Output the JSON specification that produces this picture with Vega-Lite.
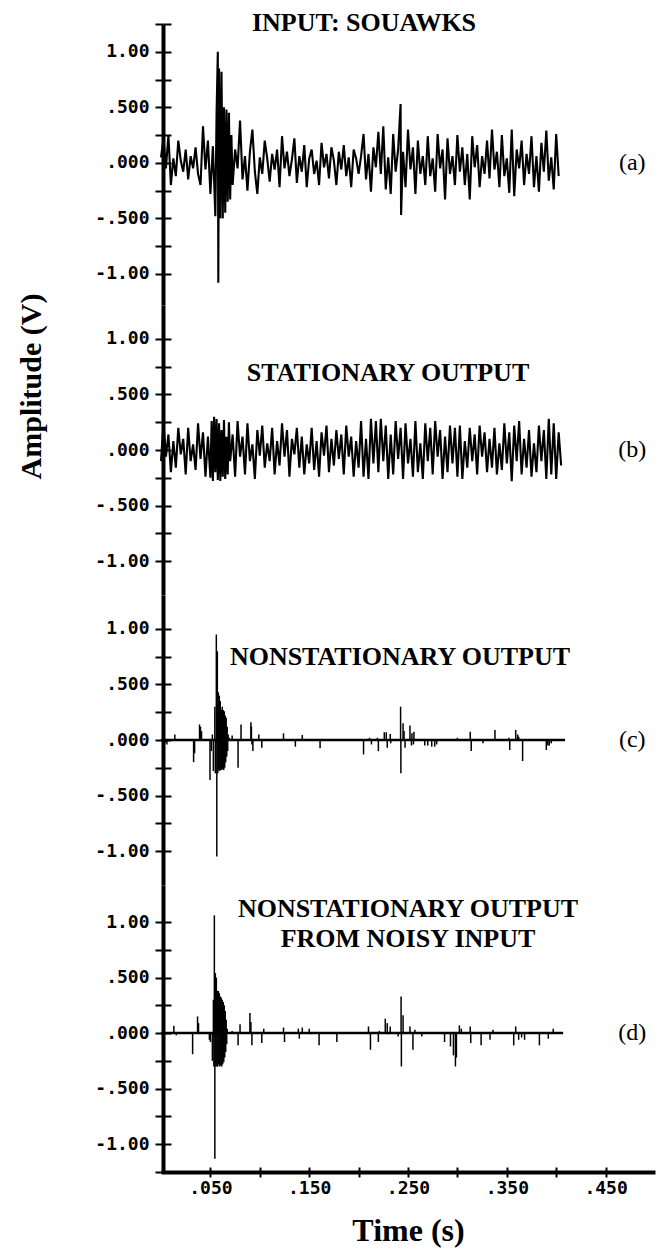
{
  "$schema": "https://vega.github.io/schema/vega-lite/v6.json",
  "autosize": "none",
  "padding": {"left": 161, "top": 24, "right": 7, "bottom": 1230},
  "background": "white",
  "config": {
    "view": {"stroke": null},
    "axis": {"grid": false, "domainColor": "black", "tickColor": "black", "labelColor": "black", "titleColor": "black", "labelFlush": false, "labelOverlap": false},
    "title": {"font": "Liberation Serif", "fontWeight": "bold", "fontSize": 26, "color": "black", "anchor": "middle", "frame": "group", "baseline": "alphabetic"}
  },
  "spacing": 0,
  "bounds": "flush",
  "datasets": {
    "a": [
      {"t":0,"v":0.05},{"t":0.0025,"v":0.22},{"t":0.005,"v":-0.05},{"t":0.0075,"v":0.25},{"t":0.01,"v":-0.2},{"t":0.0125,"v":0.04},{"t":0.015,"v":-0.12},{"t":0.0175,"v":0.2},{"t":0.02,"v":0.02},{"t":0.0225,"v":-0.08},
      {"t":0.025,"v":0.12},{"t":0.0275,"v":-0.15},{"t":0.03,"v":0.06},{"t":0.0325,"v":-0.05},{"t":0.035,"v":0.14},{"t":0.0375,"v":-0.1},{"t":0.04,"v":-0.2},{"t":0.0425,"v":0.33},{"t":0.045,"v":-0.06},{"t":0.0475,"v":0.2},
      {"t":0.05,"v":-0.28},{"t":0.0525,"v":0.15},{"t":0.055,"v":-0.48},{"t":0.05625,"v":0.45},{"t":0.0575,"v":1.0},{"t":0.058,"v":-1.08},{"t":0.05875,"v":0.85},{"t":0.06,"v":-0.5},{"t":0.06125,"v":0.82},{"t":0.0625,"v":-0.5},
      {"t":0.06375,"v":0.5},{"t":0.065,"v":-0.45},{"t":0.06625,"v":0.48},{"t":0.0675,"v":-0.35},{"t":0.06875,"v":0.45},{"t":0.07,"v":-0.33},{"t":0.07125,"v":0.25},{"t":0.0725,"v":-0.2},
      {"t":0.075,"v":0.12},{"t":0.0775,"v":-0.05},{"t":0.08,"v":0.38},{"t":0.0825,"v":-0.15},{"t":0.085,"v":0.06},{"t":0.0875,"v":-0.25},{"t":0.09,"v":0.1},{"t":0.0925,"v":0.3},{"t":0.095,"v":-0.08},{"t":0.0975,"v":-0.28},
      {"t":0.1,"v":0.05},{"t":0.1025,"v":-0.1},{"t":0.105,"v":0.2},{"t":0.1075,"v":0.04},{"t":0.11,"v":-0.17},{"t":0.1125,"v":0.08},{"t":0.115,"v":-0.06},{"t":0.1175,"v":0.12},{"t":0.12,"v":-0.22},{"t":0.1225,"v":0.24},
      {"t":0.125,"v":-0.05},{"t":0.1275,"v":0.1},{"t":0.13,"v":-0.12},{"t":0.1325,"v":0.03},{"t":0.135,"v":0.22},{"t":0.1375,"v":-0.18},{"t":0.14,"v":0.06},{"t":0.1425,"v":-0.08},{"t":0.145,"v":0.16},{"t":0.1475,"v":-0.22},
      {"t":0.15,"v":0.04},{"t":0.1525,"v":0.12},{"t":0.155,"v":-0.1},{"t":0.1575,"v":0.02},{"t":0.16,"v":-0.2},{"t":0.1625,"v":0.18},{"t":0.165,"v":-0.04},{"t":0.1675,"v":0.08},{"t":0.17,"v":-0.14},{"t":0.1725,"v":0.14},
      {"t":0.175,"v":0.02},{"t":0.1775,"v":-0.2},{"t":0.18,"v":0.1},{"t":0.1825,"v":-0.06},{"t":0.185,"v":0.16},{"t":0.1875,"v":-0.12},{"t":0.19,"v":0.05},{"t":0.1925,"v":-0.22},{"t":0.195,"v":0.12},{"t":0.1975,"v":0.04},
      {"t":0.2,"v":-0.1},{"t":0.2025,"v":0.06},{"t":0.205,"v":0.26},{"t":0.2075,"v":-0.15},{"t":0.21,"v":0.08},{"t":0.2125,"v":-0.26},{"t":0.215,"v":0.14},{"t":0.2175,"v":-0.04},{"t":0.22,"v":0.28},{"t":0.2225,"v":-0.1},
      {"t":0.225,"v":0.33},{"t":0.2275,"v":-0.24},{"t":0.23,"v":0.05},{"t":0.2325,"v":-0.28},{"t":0.235,"v":0.26},{"t":0.2375,"v":-0.08},{"t":0.24,"v":0.12},{"t":0.2425,"v":0.53},{"t":0.243,"v":-0.47},{"t":0.245,"v":0.1},
      {"t":0.2475,"v":-0.22},{"t":0.25,"v":0.3},{"t":0.2525,"v":-0.06},{"t":0.255,"v":0.14},{"t":0.2575,"v":-0.28},{"t":0.26,"v":0.2},{"t":0.2625,"v":-0.1},{"t":0.265,"v":0.06},{"t":0.2675,"v":-0.2},{"t":0.27,"v":0.24},
      {"t":0.2725,"v":-0.12},{"t":0.275,"v":0.04},{"t":0.2775,"v":-0.26},{"t":0.28,"v":0.26},{"t":0.2825,"v":-0.05},{"t":0.285,"v":0.12},{"t":0.2875,"v":-0.33},{"t":0.29,"v":0.22},{"t":0.2925,"v":-0.1},{"t":0.295,"v":0.06},
      {"t":0.2975,"v":-0.2},{"t":0.3,"v":0.25},{"t":0.3025,"v":-0.08},{"t":0.305,"v":0.14},{"t":0.3075,"v":-0.2},{"t":0.31,"v":0.08},{"t":0.3125,"v":-0.33},{"t":0.315,"v":0.24},{"t":0.3175,"v":-0.04},{"t":0.32,"v":0.16},
      {"t":0.3225,"v":-0.22},{"t":0.325,"v":0.06},{"t":0.3275,"v":-0.1},{"t":0.33,"v":0.2},{"t":0.3325,"v":-0.14},{"t":0.335,"v":0.3},{"t":0.3375,"v":-0.06},{"t":0.34,"v":0.1},{"t":0.3425,"v":-0.22},{"t":0.345,"v":0.25},
      {"t":0.3475,"v":-0.12},{"t":0.35,"v":0.04},{"t":0.3525,"v":-0.27},{"t":0.355,"v":0.3},{"t":0.3575,"v":-0.3},{"t":0.36,"v":0.12},{"t":0.3625,"v":-0.05},{"t":0.365,"v":0.2},{"t":0.3675,"v":-0.2},{"t":0.37,"v":0.08},
      {"t":0.3725,"v":-0.1},{"t":0.375,"v":0.24},{"t":0.3775,"v":-0.22},{"t":0.38,"v":0.06},{"t":0.3825,"v":-0.26},{"t":0.385,"v":0.18},{"t":0.3875,"v":-0.08},{"t":0.39,"v":0.29},{"t":0.3925,"v":-0.16},{"t":0.395,"v":0.05},
      {"t":0.3975,"v":-0.24},{"t":0.4,"v":0.26},{"t":0.4025,"v":-0.12}
    ],
    "b": [
      {"t":0,"v":-0.1},{"t":0.0025,"v":0.24},{"t":0.005,"v":-0.06},{"t":0.0075,"v":0.14},{"t":0.01,"v":-0.2},{"t":0.0125,"v":0.08},{"t":0.015,"v":-0.16},{"t":0.0175,"v":0.2},{"t":0.02,"v":-0.04},{"t":0.0225,"v":0.1},
      {"t":0.025,"v":-0.22},{"t":0.0275,"v":0.2},{"t":0.03,"v":-0.1},{"t":0.0325,"v":0.05},{"t":0.035,"v":-0.18},{"t":0.0375,"v":0.24},{"t":0.04,"v":-0.08},{"t":0.0425,"v":0.16},{"t":0.045,"v":-0.24},{"t":0.0475,"v":0.12},
      {"t":0.05,"v":-0.25},{"t":0.05125,"v":0.26},{"t":0.0525,"v":-0.28},{"t":0.05375,"v":0.3},{"t":0.055,"v":-0.2},{"t":0.05625,"v":0.28},{"t":0.0575,"v":-0.27},{"t":0.05875,"v":0.24},{"t":0.06,"v":-0.28},{"t":0.06125,"v":0.18},
      {"t":0.0625,"v":-0.24},{"t":0.06375,"v":0.27},{"t":0.065,"v":-0.26},{"t":0.06625,"v":0.12},{"t":0.0675,"v":-0.22},{"t":0.06875,"v":0.25},{"t":0.07,"v":-0.1},{"t":0.0725,"v":0.14},{"t":0.075,"v":-0.24},{"t":0.0775,"v":0.26},
      {"t":0.08,"v":-0.06},{"t":0.0825,"v":0.12},{"t":0.085,"v":-0.22},{"t":0.0875,"v":0.24},{"t":0.09,"v":-0.1},{"t":0.0925,"v":0.05},{"t":0.095,"v":-0.26},{"t":0.0975,"v":0.18},{"t":0.1,"v":-0.05},{"t":0.1025,"v":0.22},
      {"t":0.105,"v":-0.16},{"t":0.1075,"v":0.06},{"t":0.11,"v":-0.1},{"t":0.1125,"v":0.2},{"t":0.115,"v":-0.22},{"t":0.1175,"v":0.08},{"t":0.12,"v":-0.14},{"t":0.1225,"v":0.24},{"t":0.125,"v":-0.06},{"t":0.1275,"v":0.18},
      {"t":0.13,"v":-0.24},{"t":0.1325,"v":0.1},{"t":0.135,"v":-0.04},{"t":0.1375,"v":0.2},{"t":0.14,"v":-0.16},{"t":0.1425,"v":0.12},{"t":0.145,"v":-0.22},{"t":0.1475,"v":0.05},{"t":0.15,"v":-0.12},{"t":0.1525,"v":0.2},
      {"t":0.155,"v":-0.18},{"t":0.1575,"v":0.08},{"t":0.16,"v":-0.24},{"t":0.1625,"v":0.16},{"t":0.165,"v":-0.05},{"t":0.1675,"v":0.22},{"t":0.17,"v":-0.2},{"t":0.1725,"v":0.1},{"t":0.175,"v":-0.14},{"t":0.1775,"v":0.18},
      {"t":0.18,"v":-0.08},{"t":0.1825,"v":0.14},{"t":0.185,"v":-0.22},{"t":0.1875,"v":0.22},{"t":0.19,"v":-0.06},{"t":0.1925,"v":0.12},{"t":0.195,"v":-0.24},{"t":0.1975,"v":0.08},{"t":0.2,"v":-0.16},{"t":0.2025,"v":0.26},
      {"t":0.205,"v":-0.24},{"t":0.2075,"v":0.1},{"t":0.21,"v":-0.26},{"t":0.2125,"v":0.28},{"t":0.215,"v":-0.12},{"t":0.2175,"v":0.26},{"t":0.22,"v":-0.2},{"t":0.2225,"v":0.28},{"t":0.225,"v":-0.1},{"t":0.2275,"v":0.22},
      {"t":0.23,"v":-0.26},{"t":0.2325,"v":0.14},{"t":0.235,"v":-0.22},{"t":0.2375,"v":0.26},{"t":0.24,"v":-0.08},{"t":0.2425,"v":0.2},{"t":0.245,"v":-0.26},{"t":0.2475,"v":0.24},{"t":0.25,"v":-0.12},{"t":0.2525,"v":0.1},
      {"t":0.255,"v":-0.24},{"t":0.2575,"v":0.26},{"t":0.26,"v":-0.2},{"t":0.2625,"v":0.06},{"t":0.265,"v":-0.26},{"t":0.2675,"v":0.24},{"t":0.27,"v":-0.1},{"t":0.2725,"v":0.2},{"t":0.275,"v":-0.22},{"t":0.2775,"v":0.26},
      {"t":0.28,"v":-0.06},{"t":0.2825,"v":0.18},{"t":0.285,"v":-0.26},{"t":0.2875,"v":0.12},{"t":0.29,"v":-0.2},{"t":0.2925,"v":0.22},{"t":0.295,"v":-0.12},{"t":0.2975,"v":0.2},{"t":0.3,"v":-0.24},{"t":0.3025,"v":0.22},
      {"t":0.305,"v":-0.26},{"t":0.3075,"v":0.08},{"t":0.31,"v":-0.16},{"t":0.3125,"v":0.2},{"t":0.315,"v":-0.1},{"t":0.3175,"v":0.14},{"t":0.32,"v":-0.22},{"t":0.3225,"v":0.22},{"t":0.325,"v":-0.06},{"t":0.3275,"v":0.16},
      {"t":0.33,"v":-0.2},{"t":0.3325,"v":0.1},{"t":0.335,"v":-0.16},{"t":0.3375,"v":0.2},{"t":0.34,"v":-0.22},{"t":0.3425,"v":0.06},{"t":0.345,"v":-0.18},{"t":0.3475,"v":0.24},{"t":0.35,"v":-0.12},{"t":0.3525,"v":0.16},
      {"t":0.355,"v":-0.28},{"t":0.3575,"v":0.22},{"t":0.36,"v":-0.1},{"t":0.3625,"v":0.26},{"t":0.365,"v":-0.22},{"t":0.3675,"v":0.1},{"t":0.37,"v":-0.16},{"t":0.3725,"v":0.18},{"t":0.375,"v":-0.24},{"t":0.3775,"v":0.06},
      {"t":0.38,"v":-0.2},{"t":0.3825,"v":0.22},{"t":0.385,"v":-0.1},{"t":0.3875,"v":0.18},{"t":0.39,"v":-0.26},{"t":0.3925,"v":0.28},{"t":0.395,"v":-0.22},{"t":0.3975,"v":0.24},{"t":0.4,"v":-0.26},{"t":0.4025,"v":0.16},
      {"t":0.405,"v":-0.14}
    ],
    "c": [
      {"t":0,"v":0},{"t":0.004,"v":-0.03},{"t":0.006,"v":-0.04},{"t":0.014,"v":0.05},{"t":0.033,"v":-0.2},{"t":0.034,"v":-0.12},{"t":0.039,"v":0.14},{"t":0.04,"v":0.12},{"t":0.041,"v":0.08},{"t":0.0496,"v":-0.36},
      {"t":0.051,"v":-0.1},{"t":0.052,"v":0.05},{"t":0.053,"v":-0.28},{"t":0.0545,"v":0.3},{"t":0.055,"v":-0.3},{"t":0.056,"v":0.95},{"t":0.0565,"v":-1.05},{"t":0.057,"v":0.8},{"t":0.0575,"v":-0.3},{"t":0.058,"v":0.43},
      {"t":0.0585,"v":-0.27},{"t":0.059,"v":0.4},{"t":0.0595,"v":-0.28},{"t":0.06,"v":0.35},{"t":0.0605,"v":-0.27},{"t":0.061,"v":0.27},{"t":0.0615,"v":-0.27},{"t":0.062,"v":0.3},{"t":0.0625,"v":-0.26},{"t":0.063,"v":0.27},
      {"t":0.0635,"v":-0.27},{"t":0.064,"v":0.26},{"t":0.0645,"v":-0.25},{"t":0.065,"v":0.22},{"t":0.0655,"v":-0.2},{"t":0.066,"v":0.2},{"t":0.0665,"v":-0.15},{"t":0.067,"v":0.12},{"t":0.0675,"v":-0.1},{"t":0.068,"v":0.05},
      {"t":0.069,"v":0.02},{"t":0.072,"v":0.04},{"t":0.078,"v":-0.25},{"t":0.081,"v":0.14},{"t":0.091,"v":0.16},{"t":0.0915,"v":0.12},{"t":0.092,"v":-0.04},{"t":0.093,"v":-0.1},{"t":0.099,"v":0.05},{"t":0.102,"v":-0.07},
      {"t":0.124,"v":0.06},{"t":0.136,"v":-0.06},{"t":0.143,"v":0.045},{"t":0.161,"v":-0.075},{"t":0.205,"v":-0.13},{"t":0.211,"v":0.02},{"t":0.213,"v":-0.04},{"t":0.219,"v":0.02},{"t":0.22,"v":-0.1},{"t":0.226,"v":0.07},
      {"t":0.228,"v":0.07},{"t":0.229,"v":-0.07},{"t":0.232,"v":0.055},{"t":0.2325,"v":-0.03},{"t":0.2425,"v":0.3},{"t":0.2428,"v":-0.3},{"t":0.245,"v":0.15},{"t":0.246,"v":0.08},{"t":0.247,"v":-0.07},{"t":0.252,"v":0.13},
      {"t":0.2535,"v":-0.05},{"t":0.254,"v":0.06},{"t":0.2555,"v":-0.04},{"t":0.256,"v":0.075},{"t":0.267,"v":-0.05},{"t":0.27,"v":-0.05},{"t":0.274,"v":-0.06},{"t":0.277,"v":-0.06},{"t":0.279,"v":-0.04},{"t":0.3,"v":0.02},
      {"t":0.313,"v":0.075},{"t":0.314,"v":-0.1},{"t":0.326,"v":-0.03},{"t":0.338,"v":0.09},{"t":0.352,"v":0.02},{"t":0.353,"v":-0.09},{"t":0.359,"v":0.09},{"t":0.361,"v":0.05},{"t":0.362,"v":0.03},{"t":0.366,"v":-0.19},
      {"t":0.39,"v":-0.09},{"t":0.3915,"v":-0.05},{"t":0.393,"v":-0.05},{"t":0.395,"v":-0.03},{"t":0.409,"v":0}
    ],
    "d": [
      {"t":0,"v":0},{"t":0.002,"v":0.06},{"t":0.013,"v":0.066},{"t":0.0155,"v":-0.02},{"t":0.032,"v":-0.19},{"t":0.037,"v":0.15},{"t":0.038,"v":0.09},{"t":0.049,"v":-0.06},{"t":0.05,"v":-0.08},{"t":0.052,"v":-0.25},
      {"t":0.053,"v":0.3},{"t":0.0535,"v":-0.3},{"t":0.054,"v":1.06},{"t":0.0545,"v":-1.13},{"t":0.055,"v":0.54},{"t":0.0555,"v":-0.3},{"t":0.056,"v":0.5},{"t":0.0565,"v":-0.3},{"t":0.057,"v":0.38},{"t":0.0575,"v":-0.3},
      {"t":0.058,"v":0.38},{"t":0.0585,"v":-0.28},{"t":0.059,"v":0.36},{"t":0.0595,"v":-0.3},{"t":0.06,"v":0.33},{"t":0.0605,"v":-0.29},{"t":0.061,"v":0.32},{"t":0.0615,"v":-0.3},{"t":0.062,"v":0.3},{"t":0.0625,"v":-0.28},
      {"t":0.063,"v":0.28},{"t":0.0635,"v":-0.26},{"t":0.064,"v":0.25},{"t":0.0645,"v":-0.22},{"t":0.065,"v":0.2},{"t":0.0655,"v":-0.17},{"t":0.066,"v":0.12},{"t":0.0665,"v":-0.1},{"t":0.067,"v":0.04},{"t":0.072,"v":0.02},
      {"t":0.078,"v":-0.11},{"t":0.08,"v":0.08},{"t":0.09,"v":0.18},{"t":0.091,"v":0.1},{"t":0.092,"v":-0.11},{"t":0.102,"v":-0.09},{"t":0.104,"v":0.04},{"t":0.124,"v":0.05},{"t":0.125,"v":-0.08},{"t":0.139,"v":0.04},
      {"t":0.14,"v":-0.05},{"t":0.143,"v":0.05},{"t":0.15,"v":0.04},{"t":0.151,"v":-0.01},{"t":0.16,"v":-0.11},{"t":0.178,"v":-0.08},{"t":0.21,"v":0.06},{"t":0.212,"v":-0.15},{"t":0.22,"v":-0.08},{"t":0.221,"v":0.02},
      {"t":0.227,"v":0.13},{"t":0.229,"v":0.09},{"t":0.2295,"v":-0.01},{"t":0.232,"v":0.06},{"t":0.24,"v":-0.03},{"t":0.243,"v":0.33},{"t":0.2433,"v":-0.3},{"t":0.245,"v":0.16},{"t":0.252,"v":0.06},{"t":0.255,"v":-0.15},
      {"t":0.257,"v":0.03},{"t":0.264,"v":-0.03},{"t":0.287,"v":-0.08},{"t":0.293,"v":-0.12},{"t":0.296,"v":-0.2},{"t":0.298,"v":-0.3},{"t":0.299,"v":-0.22},{"t":0.302,"v":0.07},{"t":0.304,"v":0.04},{"t":0.313,"v":0.06},
      {"t":0.3135,"v":-0.09},{"t":0.324,"v":-0.11},{"t":0.333,"v":-0.06},{"t":0.336,"v":0.03},{"t":0.351,"v":0.01},{"t":0.357,"v":-0.11},{"t":0.359,"v":0.06},{"t":0.362,"v":-0.06},{"t":0.365,"v":-0.04},{"t":0.368,"v":-0.06},
      {"t":0.383,"v":-0.11},{"t":0.392,"v":-0.05},{"t":0.397,"v":0.04},{"t":0.407,"v":0}
    ]
  },
  "vconcat": [
    {
      "width": 494, "height": 281,
      "title": {"text": "INPUT: SOUAWKS", "offset": -21, "dx": -44},
      "data": {"name": "a"},
      "resolve": {"axis": {"y": "independent"}},
      "layer": [
        {"mark": {"type": "line", "color": "black", "strokeWidth": 2.1},
         "encoding": {
           "x": {"field": "t", "type": "quantitative", "scale": {"domain": [0, 0.5]}, "axis": null},
           "y": {"field": "v", "type": "quantitative", "scale": {"domain": [-1.28, 1.25]},
                 "axis": {"orient": "left", "offset": -2, "values": [-1, -0.75, -0.5, -0.25, 0, 0.25, 0.5, 0.75, 1, 1.25],
                          "labelExpr": "datum.value == 1 ? '1.00' : datum.value == 0.5 ? '.500' : datum.value == 0 ? '.000' : datum.value == -0.5 ? '-.500' : datum.value == -1 ? '-1.00' : ''",
                          "domainWidth": 4, "tickWidth": 2, "tickSize": 8, "labelFont": "DejaVu Sans Mono", "labelFontWeight": "bold", "labelFontSize": 18, "labelPadding": 6, "title": null}}
         }},
        {"mark": {"type": "rule", "strokeOpacity": 0},
         "encoding": {"y": {"datum": 0, "type": "quantitative", "scale": {"domain": [-1.28, 1.25]},
                            "axis": {"orient": "left", "offset": -2, "values": [-1, -0.75, -0.5, -0.25, 0, 0.25, 0.5, 0.75, 1, 1.25], "domain": false, "labels": false, "tickWidth": 2, "tickSize": -8, "title": null}}}},
        {"data": {"values": [{"label": "(a)"}]},
         "mark": {"type": "text", "font": "Liberation Serif", "fontSize": 24, "align": "center", "baseline": "middle", "color": "black"},
         "encoding": {"text": {"field": "label"},
                      "x": {"datum": 0.477, "type": "quantitative", "scale": {"domain": [0, 0.5]}, "axis": null},
                      "y": {"datum": 0, "type": "quantitative", "scale": {"domain": [-1.28, 1.25]}, "axis": null}}}
      ]
    },
    {
      "width": 494, "height": 290,
      "title": {"text": "STATIONARY OUTPUT", "offset": -93, "dx": -20},
      "data": {"name": "b"},
      "resolve": {"axis": {"y": "independent"}},
      "layer": [
        {"mark": {"type": "line", "color": "black", "strokeWidth": 2.1},
         "encoding": {
           "x": {"field": "t", "type": "quantitative", "scale": {"domain": [0, 0.5]}, "axis": null},
           "y": {"field": "v", "type": "quantitative", "scale": {"domain": [-1.306, 1.306]},
                 "axis": {"orient": "left", "offset": -2, "values": [-1, -0.75, -0.5, -0.25, 0, 0.25, 0.5, 0.75, 1],
                          "labelExpr": "datum.value == 1 ? '1.00' : datum.value == 0.5 ? '.500' : datum.value == 0 ? '.000' : datum.value == -0.5 ? '-.500' : datum.value == -1 ? '-1.00' : ''",
                          "domainWidth": 4, "tickWidth": 2, "tickSize": 8, "labelFont": "DejaVu Sans Mono", "labelFontWeight": "bold", "labelFontSize": 18, "labelPadding": 6,
                          "title": "Amplitude (V)", "titleFont": "Liberation Serif", "titleFontWeight": "bold", "titleFontSize": 30, "titleAngle": -90, "titleAlign": "center", "titleBaseline": "middle", "titleX": -132, "titleY": 81}}
         }},
        {"mark": {"type": "rule", "strokeOpacity": 0},
         "encoding": {"y": {"datum": 0, "type": "quantitative", "scale": {"domain": [-1.306, 1.306]},
                            "axis": {"orient": "left", "offset": -2, "values": [-1, -0.75, -0.5, -0.25, 0, 0.25, 0.5, 0.75, 1], "domain": false, "labels": false, "tickWidth": 2, "tickSize": -8, "title": null}}}},
        {"data": {"values": [{"label": "(b)"}]},
         "mark": {"type": "text", "font": "Liberation Serif", "fontSize": 24, "align": "center", "baseline": "middle", "color": "black"},
         "encoding": {"text": {"field": "label"},
                      "x": {"datum": 0.477, "type": "quantitative", "scale": {"domain": [0, 0.5]}, "axis": null},
                      "y": {"datum": 0, "type": "quantitative", "scale": {"domain": [-1.306, 1.306]}, "axis": null}}}
      ]
    },
    {
      "width": 494, "height": 290,
      "title": {"text": "NONSTATIONARY OUTPUT", "offset": -75, "dx": -8},
      "data": {"name": "c"},
      "resolve": {"axis": {"y": "independent"}},
      "layer": [
        {"mark": {"type": "rule", "color": "black", "strokeWidth": 1.5},
         "encoding": {
           "x": {"field": "t", "type": "quantitative", "scale": {"domain": [0, 0.5]}, "axis": null},
           "y": {"field": "v", "type": "quantitative", "scale": {"domain": [-1.306, 1.306]},
                 "axis": {"orient": "left", "offset": -2, "values": [-1, -0.75, -0.5, -0.25, 0, 0.25, 0.5, 0.75, 1],
                          "labelExpr": "datum.value == 1 ? '1.00' : datum.value == 0.5 ? '.500' : datum.value == 0 ? '.000' : datum.value == -0.5 ? '-.500' : datum.value == -1 ? '-1.00' : ''",
                          "domainWidth": 4, "tickWidth": 2, "tickSize": 8, "labelFont": "DejaVu Sans Mono", "labelFontWeight": "bold", "labelFontSize": 18, "labelPadding": 6, "title": null}},
           "y2": {"datum": 0}
         }},
        {"mark": {"type": "rule", "color": "black", "strokeWidth": 2.5},
         "encoding": {"x": {"aggregate": "min", "field": "t", "type": "quantitative", "scale": {"domain": [0, 0.5]}, "axis": null},
                      "x2": {"aggregate": "max", "field": "t"},
                      "y": {"datum": 0, "type": "quantitative", "scale": {"domain": [-1.306, 1.306]},
                            "axis": {"orient": "left", "offset": -2, "values": [-1, -0.75, -0.5, -0.25, 0, 0.25, 0.5, 0.75, 1], "domain": false, "labels": false, "tickWidth": 2, "tickSize": -8, "title": null}}}},
        {"data": {"values": [{"label": "(c)"}]},
         "mark": {"type": "text", "font": "Liberation Serif", "fontSize": 24, "align": "center", "baseline": "middle", "color": "black"},
         "encoding": {"text": {"field": "label"},
                      "x": {"datum": 0.477, "type": "quantitative", "scale": {"domain": [0, 0.5]}, "axis": null},
                      "y": {"datum": 0, "type": "quantitative", "scale": {"domain": [-1.306, 1.306]}, "axis": null}}}
      ]
    },
    {
      "width": 494, "height": 287,
      "title": {"text": ["NONSTATIONARY OUTPUT", "FROM NOISY INPUT"], "offset": -67, "dx": 0, "lineHeight": 30},
      "data": {"name": "d"},
      "resolve": {"axis": {"y": "independent", "x": "independent"}},
      "layer": [
        {"mark": {"type": "rule", "color": "black", "strokeWidth": 1.5},
         "encoding": {
           "x": {"field": "t", "type": "quantitative", "scale": {"domain": [0, 0.5]},
                 "axis": {"orient": "bottom", "values": [0.05, 0.1, 0.15, 0.2, 0.25, 0.3, 0.35, 0.4, 0.45],
                          "labelExpr": "round(datum.value * 100) % 10 == 5 ? substring(format(datum.value, '.3f'), 1) : ''",
                          "domainWidth": 4, "tickWidth": 2, "tickSize": 5, "labelFont": "DejaVu Sans Mono", "labelFontWeight": "bold", "labelFontSize": 18, "labelPadding": 2,
                          "title": "Time (s)", "titleFont": "Liberation Serif", "titleFontWeight": "bold", "titleFontSize": 32, "titlePadding": 18}},
           "y": {"field": "v", "type": "quantitative", "scale": {"domain": [-1.25, 1.333]},
                 "axis": {"orient": "left", "offset": -2, "values": [-1.25, -1, -0.75, -0.5, -0.25, 0, 0.25, 0.5, 0.75, 1],
                          "labelExpr": "datum.value == 1 ? '1.00' : datum.value == 0.5 ? '.500' : datum.value == 0 ? '.000' : datum.value == -0.5 ? '-.500' : datum.value == -1 ? '-1.00' : ''",
                          "domainWidth": 4, "tickWidth": 2, "tickSize": 8, "labelFont": "DejaVu Sans Mono", "labelFontWeight": "bold", "labelFontSize": 18, "labelPadding": 6, "title": null}},
           "y2": {"datum": 0}
         }},
        {"mark": {"type": "rule", "color": "black", "strokeWidth": 2.5},
         "encoding": {"x": {"aggregate": "min", "field": "t", "type": "quantitative", "scale": {"domain": [0, 0.5]},
                            "axis": {"orient": "bottom", "values": [0.05, 0.1, 0.15, 0.2, 0.25, 0.3, 0.35, 0.4, 0.45], "domain": false, "labels": false, "tickWidth": 2, "tickSize": -5, "title": null}},
                      "x2": {"aggregate": "max", "field": "t"},
                      "y": {"datum": 0, "type": "quantitative", "scale": {"domain": [-1.25, 1.333]},
                            "axis": {"orient": "left", "offset": -2, "values": [-1.25, -1, -0.75, -0.5, -0.25, 0, 0.25, 0.5, 0.75, 1], "domain": false, "labels": false, "tickWidth": 2, "tickSize": -8, "title": null}}}},
        {"data": {"values": [{"label": "(d)"}]},
         "mark": {"type": "text", "font": "Liberation Serif", "fontSize": 24, "align": "center", "baseline": "middle", "color": "black"},
         "encoding": {"text": {"field": "label"},
                      "x": {"datum": 0.477, "type": "quantitative", "scale": {"domain": [0, 0.5]}, "axis": null},
                      "y": {"datum": 0, "type": "quantitative", "scale": {"domain": [-1.25, 1.333]}, "axis": null}}}
      ]
    }
  ]
}
